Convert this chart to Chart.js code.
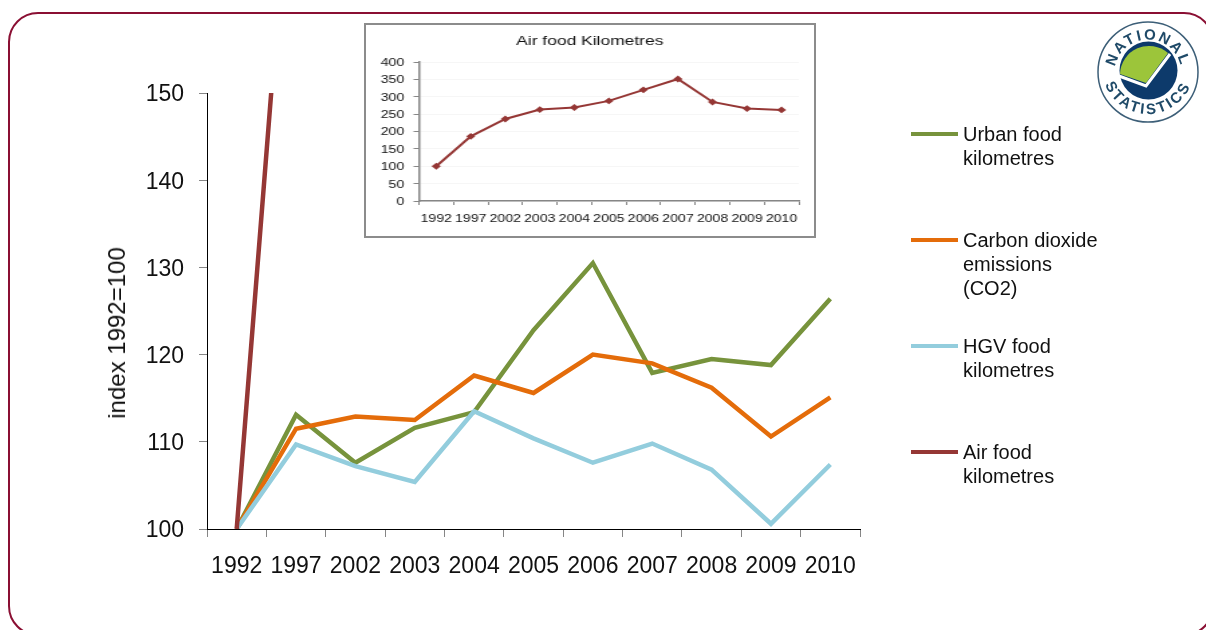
<!DOCTYPE html>
<html>
<head>
<meta charset="utf-8">
<title>Food kilometres</title>
<script src="https://cdn.jsdelivr.net/npm/chart.js@4"></script>
<style>
  html, body { margin: 0; padding: 0; background: #fff; }
  body { position: relative; width: 1206px; height: 630px; overflow: hidden; font-family: "Liberation Sans", Arial, sans-serif; }
  #frame { position: absolute; left: 8px; top: 12px; width: 1206px; height: 624px; box-sizing: border-box; border: 2px solid #8a0f33; border-radius: 30px; }
  #main { position: absolute; left: 0; top: 0; }
  #yTitle { position: absolute; left: 117px; top: 333px; font-size: 24px; line-height: 24px; color: #111; white-space: nowrap; transform: translate(-50%, -50%) rotate(-90deg); }
  #inset { position: absolute; left: 364px; top: 23px; width: 452px; height: 215px; box-sizing: border-box; border: 2px solid #8c8c8c; background: #fff; }
  /* the inset is a stretched picture in the original, text included */
  #insetChart { position: absolute; left: 0; top: 0; transform: scaleX(1.34); transform-origin: 0 0; }
  #legend { position: absolute; left: 911px; top: 0; }
  .item { position: absolute; left: 0; width: 190px; font-size: 20px; line-height: 24px; color: #111; }
  .item i { position: absolute; left: 0; top: 10px; width: 47px; height: 4px; }
  .item span { display: block; margin-left: 52px; white-space: pre-line; }
  #logo { position: absolute; left: 1095px; top: 19px; }
</style>
</head>
<body>
<div id="frame"></div>
<canvas id="main" width="1206" height="630"></canvas>
<div id="yTitle">index 1992=100</div>
<div id="inset"><canvas id="insetChart" width="334" height="211"></canvas></div>
<div id="legend"></div>
<svg id="logo" width="106" height="106" viewBox="0 0 106 106">
  <defs>
    <path id="arcTop" d="M 21 64 A 33.5 33.5 0 1 1 85 64"/>
    <path id="arcBottom" d="M 7 49 A 46 46 0 1 0 99 49"/>
  </defs>
  <circle cx="53" cy="53" r="50" fill="#fff" stroke="#3d5f78" stroke-width="1.5"/>
  <circle cx="53.5" cy="51.5" r="29" fill="#0d3a6b"/>
  <path d="M 25 55 A 29 29 0 0 1 73 34 L 51 64 Z" fill="#9cc53a"/>
  <path d="M 24 57 L 51 67 L 75 35" fill="none" stroke="#fff" stroke-width="3"/>
  <text font-size="15" font-weight="bold" fill="#1f4a68" letter-spacing="2"><textPath href="#arcTop" startOffset="50%" text-anchor="middle">NATIONAL</textPath></text>
  <text font-size="15" font-weight="bold" fill="#1f4a68" letter-spacing="2.5"><textPath href="#arcBottom" startOffset="50%" text-anchor="middle">STATISTICS</textPath></text>
</svg>
<script>
const categories = ['1992', '1997', '2002', '2003', '2004', '2005', '2006', '2007', '2008', '2009', '2010'];
const urbanValues = [100, 113.1, 107.6, 111.6, 113.4, 122.8, 130.5, 117.9, 119.5, 118.8, 126.4];
const co2Values = [100, 111.5, 112.9, 112.5, 117.6, 115.6, 120, 119, 116.2, 110.6, 115.1];
const hgvValues = [100, 109.7, 107.2, 105.4, 113.5, 110.4, 107.6, 109.8, 106.8, 100.6, 107.4];
const airValues = [100, 186, 236, 263, 269, 288, 320, 351, 285, 266, 262];

const GREEN = '#77933c';
const ORANGE = '#e46c0a';
const BLUE = '#93cddd';
const RED = '#953735';

const font = '"Liberation Sans", Arial, sans-serif';

const lineSet = (label, data, color, order) => ({
  label,
  data,
  borderColor: color,
  backgroundColor: color,
  borderWidth: 4.5,
  pointRadius: 0,
  tension: 0,
  order
});

new Chart(document.getElementById('main'), {
  type: 'line',
  data: {
    labels: categories,
    datasets: [
      lineSet('Urban food\nkilometres', urbanValues, GREEN, 4),
      lineSet('Carbon dioxide\nemissions\n(CO2)', co2Values, ORANGE, 3),
      lineSet('HGV food\nkilometres', hgvValues, BLUE, 2),
      lineSet('Air food\nkilometres', airValues, RED, 1)
    ]
  },
  options: {
    responsive: false,
    animation: false,
    layout: { padding: { top: 93, right: 346, left: 0, bottom: 0 } },
    plugins: { legend: { display: false }, title: { display: false }, tooltip: { enabled: false } },
    scales: {
      x: {
        offset: true,
        afterFit: scale => { scale.height = 101; },
        grid: { display: true, drawOnChartArea: false, tickLength: 8, color: '#868686', offset: true },
        border: { color: '#000', width: 1 },
        ticks: { color: '#111', font: { size: 23, family: font }, padding: 16, maxRotation: 0, autoSkip: false }
      },
      y: {
        min: 100,
        max: 150,
        afterFit: scale => { scale.width = 207; },
        grid: { display: true, drawOnChartArea: false, tickLength: 8, color: '#868686' },
        border: { color: '#000', width: 1 },
        ticks: { stepSize: 10, color: '#111', font: { size: 23, family: font }, padding: 15, labelOffset: 2 }
      }
    }
  }
});

new Chart(document.getElementById('insetChart'), {
  type: 'line',
  data: {
    labels: categories,
    datasets: [{
      label: 'Air food Kilometres',
      data: airValues,
      borderColor: RED,
      backgroundColor: RED,
      borderWidth: 2,
      pointRadius: 2,
      pointStyle: 'rectRot',
      tension: 0
    }]
  },
  options: {
    responsive: false,
    animation: false,
    layout: { padding: { top: 0, right: 11, left: 11, bottom: 0 } },
    plugins: {
      legend: { display: false },
      tooltip: { enabled: false },
      title: { display: true, text: 'Air food Kilometres', color: '#111', font: { size: 13, weight: 'normal', family: font }, padding: { top: 9, bottom: 12.4 } }
    },
    scales: {
      x: {
        offset: true,
        afterFit: scale => { scale.height = 35; },
        grid: { display: true, drawOnChartArea: false, tickLength: 4, color: '#868686', offset: true },
        border: { color: '#868686', width: 1.5 },
        ticks: { color: '#111', font: { size: 10.5, family: font }, padding: 8, maxRotation: 0, autoSkip: false }
      },
      y: {
        min: 0,
        max: 400,
        afterFit: scale => { scale.width = 28.5; },
        grid: { color: '#f6f6f6', tickLength: 4, tickColor: '#868686' },
        border: { color: '#868686', width: 1.5 },
        ticks: { stepSize: 50, color: '#111', font: { size: 10.5, family: font }, padding: 7, labelOffset: 1 }
      }
    }
  }
});

// legend keeps the wrapped labels of the original, so it is plain html
const legendTops = [122, 228, 334, 440];
const legend = document.getElementById('legend');
Chart.getChart('main').data.datasets.forEach((ds, i) => {
  const item = document.createElement('div');
  item.className = 'item';
  item.style.top = legendTops[i] + 'px';
  const swatch = document.createElement('i');
  swatch.style.background = ds.borderColor;
  const text = document.createElement('span');
  text.textContent = ds.label;
  item.append(swatch, text);
  legend.append(item);
});
</script>
</body>
</html>
